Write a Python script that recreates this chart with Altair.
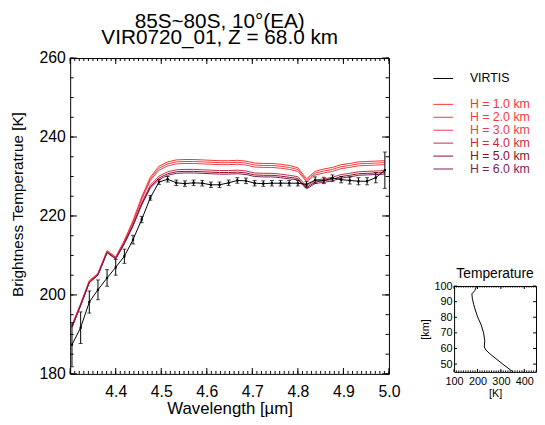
import altair as alt
import pandas as pd

FONT = "Liberation Sans"

# ---------------- data ----------------
wavelength = [4.304, 4.323, 4.342, 4.361, 4.381, 4.400, 4.419, 4.438, 4.457, 4.476,
              4.495, 4.514, 4.533, 4.552, 4.571, 4.590, 4.609, 4.628, 4.648, 4.667,
              4.686, 4.705, 4.724, 4.743, 4.762, 4.781, 4.800, 4.819, 4.838, 4.857,
              4.876, 4.895, 4.914, 4.933, 4.952, 4.971, 4.991]

virtis_T = [187.4, 191.7, 198.2, 201.3, 204.3, 207.0, 209.8, 214.0, 219.1, 224.6,
            228.6, 229.3, 228.4, 228.2, 228.4, 228.3, 227.9, 227.9, 228.4, 229.0,
            228.9, 228.3, 228.2, 228.3, 228.3, 228.3, 228.3, 228.0, 229.1, 229.0,
            229.6, 229.2, 229.0, 228.8, 228.8, 229.7, 231.6]

virtis_err = [5.6, 4.0, 2.8, 2.5, 2.1, 2.0, 1.8, 1.1, 0.8, 0.6,
              0.6, 0.7, 0.7, 0.7, 0.7, 0.7, 0.7, 0.7, 0.7, 0.7,
              0.7, 0.7, 0.7, 0.7, 0.7, 0.7, 0.7, 0.7, 0.8, 0.8,
              0.8, 0.8, 0.9, 0.9, 0.9, 1.3, 4.6]

H1 = [192.3, 197.8, 203.6, 205.5, 211.2, 209.6, 213.8, 218.8, 224.8, 229.8,
      232.6, 233.7, 234.2, 234.3, 234.3, 234.2, 234.1, 234.0, 234.0, 234.1,
      233.9, 233.4, 233.3, 233.3, 233.1, 232.8, 232.2, 229.4, 231.3, 231.9,
      232.3, 233.0, 233.3, 233.7, 233.8, 233.9, 234.0]
H2 = [192.2, 197.7, 203.5, 205.4, 211.1, 209.5, 213.7, 218.6, 224.5, 229.4,
      232.1, 233.2, 233.7, 233.8, 233.8, 233.7, 233.6, 233.5, 233.5, 233.6,
      233.4, 232.9, 232.8, 232.8, 232.6, 232.3, 231.75, 229.0, 230.85, 231.4,
      231.8, 232.5, 232.8, 233.2, 233.3, 233.4, 233.5]
H3 = [192.15, 197.65, 203.45, 205.35, 211.05, 209.45, 213.55, 218.4, 224.2, 229.0,
      231.6, 232.7, 233.2, 233.3, 233.3, 233.2, 233.1, 233.0, 233.0, 233.1,
      232.9, 232.4, 232.3, 232.3, 232.1, 231.8, 231.3, 228.65, 230.4, 230.9,
      231.3, 232.0, 232.3, 232.7, 232.8, 232.9, 233.0]
H4 = [191.9, 197.4, 203.2, 205.1, 210.8, 209.2, 213.2, 217.8, 223.3, 227.8,
      230.1, 231.2, 231.7, 231.8, 231.8, 231.7, 231.6, 231.5, 231.5, 231.6,
      231.4, 230.9, 230.8, 230.8, 230.6, 230.3, 229.95, 227.5, 229.05, 229.4,
      229.8, 230.5, 230.8, 231.2, 231.3, 231.4, 231.5]
H5 = [191.85, 197.35, 203.15, 205.05, 210.75, 209.15, 213.05, 217.6, 223.0, 227.4,
      229.6, 230.7, 231.2, 231.3, 231.3, 231.2, 231.1, 231.0, 231.0, 231.1,
      230.9, 230.4, 230.3, 230.3, 230.1, 229.8, 229.5, 227.15, 228.6, 228.9,
      229.3, 230.0, 230.3, 230.7, 230.8, 230.9, 231.0]
H6 = [191.8, 197.3, 203.1, 205.0, 210.7, 209.1, 212.95, 217.45, 222.75, 227.1,
      229.2, 230.3, 230.8, 230.9, 230.9, 230.8, 230.7, 230.6, 230.6, 230.7,
      230.5, 230.0, 229.9, 229.9, 229.7, 229.4, 229.15, 226.85, 228.25, 228.5,
      228.9, 229.6, 229.9, 230.3, 230.4, 230.5, 230.6]

h_labels = ["H = 1.0 km", "H = 2.0 km", "H = 3.0 km",
            "H = 4.0 km", "H = 5.0 km", "H = 6.0 km"]
h_colors = ["#FF3030", "#FF3A3A", "#F03C4A", "#C82A42", "#960A2A", "#7D1E5A"]

# temperature profile (inset)
prof_alt = [100, 97, 95, 92, 88, 84, 80, 75, 70, 65, 61, 59, 57, 55, 50, 45]
prof_T = [197, 188, 176, 178, 184, 192, 201, 216, 226, 231, 229, 236, 250, 266, 308, 352]

x_major = [4.3, 4.4, 4.5, 4.6, 4.7, 4.8, 4.9, 5.0]
x_labels = [4.4, 4.5, 4.6, 4.7, 4.8, 4.9, 5.0]
x_minor = [round(4.30 + 0.01 * k, 2) for k in range(71)]
y_major = [180, 200, 220, 240, 260]
y_minor = [180 + 5 * k for k in range(17)]

ins_x_labels = [100, 200, 300, 400]
ins_x_minor = [100 + 10 * k for k in range(36)]
ins_y_labels = [50, 60, 70, 80, 90, 100]

# ---------------- frames ----------------
model_rows = []
for lab, vals in zip(h_labels, [H1, H2, H3, H4, H5, H6]):
    for w, t in zip(wavelength, vals):
        model_rows.append({"wl": w, "T": t, "H": lab})
model_df = pd.DataFrame(model_rows)

vir_df = pd.DataFrame({
    "wl": wavelength,
    "T": virtis_T,
    "lo": [t - e for t, e in zip(virtis_T, virtis_err)],
    "hi": [t + e for t, e in zip(virtis_T, virtis_err)],
})

W, HGT = 323, 320
xs = alt.Scale(domain=[4.3, 5.0], nice=False, zero=False)
ys = alt.Scale(domain=[180, 260], nice=False, zero=False)

x_axis = alt.Axis(values=x_labels, format=".1f", ticks=False, domain=False, grid=False,
                  labelFontSize=16, labelPadding=10, labelColor="black", labelFlush=False,
                  title="Wavelength [µm]", titleFontSize=17, titleFontWeight="normal",
                  titlePadding=1, titleColor="black")
y_axis = alt.Axis(values=y_major, ticks=False, domain=False, grid=False,
                  labelFontSize=16, labelPadding=5, labelColor="black", labelFlush=False,
                  title="Brightness Temperatrue [K]", titleFontSize=15.5,
                  titleFontWeight="normal", titleColor="black",
                  titleX=-48, titleY=148, titleBaseline="alphabetic")


def X(field):
    return alt.X(field, scale=xs, axis=x_axis)


def Y(field):
    return alt.Y(field, scale=ys, axis=y_axis)


models = alt.Chart(model_df).mark_line(strokeWidth=1, clip=True).encode(
    x=X("wl:Q"), y=Y("T:Q"),
    color=alt.Color("H:N", scale=alt.Scale(domain=h_labels, range=h_colors), legend=None),
    detail="H:N",
)
vline = alt.Chart(vir_df).mark_line(strokeWidth=1, color="black").encode(x=X("wl:Q"), y=Y("T:Q"))
vbars = alt.Chart(vir_df).mark_rule(strokeWidth=1, color="black").encode(
    x=X("wl:Q"), y=Y("lo:Q"), y2="hi:Q")
vcap_lo = alt.Chart(vir_df).mark_tick(orient="horizontal", size=4, thickness=1, color="black").encode(
    x=X("wl:Q"), y=Y("lo:Q"))
vcap_hi = alt.Chart(vir_df).mark_tick(orient="horizontal", size=4, thickness=1, color="black").encode(
    x=X("wl:Q"), y=Y("hi:Q"))
vpts = alt.Chart(vir_df).mark_square(size=5, color="black", opacity=1).encode(x=X("wl:Q"), y=Y("T:Q"))


def xticks(vals, length, top):
    d = pd.DataFrame({"wl": vals})
    if top:
        yy, yy2 = alt.value(0), alt.value(length)
    else:
        yy, yy2 = alt.value(HGT), alt.value(HGT - length)
    return alt.Chart(d).mark_rule(strokeWidth=1, color="black").encode(x=X("wl:Q"), y=yy, y2=yy2)


def yticks(vals, length, right):
    d = pd.DataFrame({"T": vals})
    if right:
        xx, xx2 = alt.value(W), alt.value(W - length)
    else:
        xx, xx2 = alt.value(0), alt.value(length)
    return alt.Chart(d).mark_rule(strokeWidth=1, color="black").encode(y=Y("T:Q"), x=xx, x2=xx2)


main = alt.layer(
    models, vline, vbars, vcap_lo, vcap_hi, vpts,
    xticks(x_minor, 3, False), xticks(x_major, 6, False),
    xticks(x_minor, 3, True), xticks(x_major, 6, True),
    yticks(y_minor, 3.5, False), yticks(y_major, 7, False),
    yticks(y_minor, 3.5, True), yticks(y_major, 7, True),
).properties(
    width=W, height=HGT,
    title=alt.TitleParams(["85S~80S, 10°(EA)", "VIR0720_01, Z = 68.0 km"],
                          fontSize=21, fontWeight="normal", lineHeight=16,
                          anchor="middle", dx=-10, offset=2, color="black", font=FONT),
    view=alt.ViewBackground(stroke="black", strokeWidth=1),
)

# ---------------- legend (manual) ----------------
IW, IH = 83, 87
leg_df = pd.DataFrame({
    "label": ["VIRTIS"] + h_labels,
    "color": ["#000000"] + h_colors,
    "row": [0, 2, 3, 4, 5, 6, 7],
})
LH = 130
row_px = 13.1
row0 = 20.7
rs = alt.Scale(domain=[-row0 / row_px, (LH - row0) / row_px], nice=False, zero=False, reverse=True)
leg_rule = alt.Chart(leg_df).mark_rule(strokeWidth=1).encode(
    x=alt.value(-21), x2=alt.value(-1),
    y=alt.Y("row:Q", scale=rs, axis=None),
    color=alt.Color("color:N", scale=None),
)
leg_text = alt.Chart(leg_df).mark_text(align="left", baseline="middle", fontSize=12.5, font=FONT).encode(
    x=alt.value(16),
    y=alt.Y("row:Q", scale=rs, axis=None),
    text="label:N",
    color=alt.Color("color:N", scale=None),
)
legend = alt.layer(leg_rule, leg_text).properties(
    width=IW, height=LH, view=alt.ViewBackground(stroke="white", fill="white"))

# ---------------- inset temperature profile ----------------
ixs = alt.Scale(domain=[100, 450], nice=False, zero=False)
iys = alt.Scale(domain=[45, 100], nice=False, zero=False)
prof_df = pd.DataFrame({"T": prof_T, "alt": prof_alt})

ix_axis = alt.Axis(values=ins_x_labels, ticks=False, domain=False, grid=False,
                   labelFontSize=11, labelPadding=4, labelColor="black", labelFlush=False,
                   title="[K]", titleFontSize=11, titleFontWeight="normal",
                   titlePadding=1, titleColor="black")
iy_axis = alt.Axis(values=ins_y_labels, ticks=False, domain=False, grid=False,
                   labelFontSize=11, labelPadding=2, labelColor="black", labelFlush=False,
                   title="[km]", titleFontSize=11, titleFontWeight="normal",
                   titlePadding=4, titleColor="black")


def IX(field):
    return alt.X(field, scale=ixs, axis=ix_axis)


def IY(field):
    return alt.Y(field, scale=iys, axis=iy_axis)


prof_line = alt.Chart(prof_df).mark_line(strokeWidth=1, color="black").encode(
    x=IX("T:Q"), y=IY("alt:Q"), order="alt:Q")


def ixt(vals, length, top):
    d = pd.DataFrame({"T": vals})
    if top:
        yy, yy2 = alt.value(0), alt.value(length)
    else:
        yy, yy2 = alt.value(IH), alt.value(IH - length)
    return alt.Chart(d).mark_rule(strokeWidth=1, color="black").encode(x=IX("T:Q"), y=yy, y2=yy2)


def iyt(vals, length, right):
    d = pd.DataFrame({"alt": vals})
    if right:
        xx, xx2 = alt.value(IW), alt.value(IW - length)
    else:
        xx, xx2 = alt.value(0), alt.value(length)
    return alt.Chart(d).mark_rule(strokeWidth=1, color="black").encode(y=IY("alt:Q"), x=xx, x2=xx2)


inset = alt.layer(
    prof_line,
    ixt(ins_x_minor, 1.5, False), ixt(ins_x_labels, 3, False),
    ixt(ins_x_minor, 1.5, True), ixt(ins_x_labels, 3, True),
    iyt(ins_y_labels, 3, False), iyt(ins_y_labels, 3, True),
).properties(
    width=IW, height=IH,
    title=alt.TitleParams("Temperature", fontSize=14, fontWeight="normal", offset=-1,
                          color="black", font=FONT),
    view=alt.ViewBackground(stroke="black", strokeWidth=1),
)

right = alt.vconcat(legend, inset, spacing=80)
chart = alt.hconcat(main, right, spacing=18).properties(
    padding={"left": 2, "top": 0, "right": 0, "bottom": 0},
    background="white",
).configure(font=FONT).configure_axis(labelFont=FONT, titleFont=FONT).configure_title(font=FONT)

chart.save("out.html", embed_options={"renderer": "svg", "actions": False})
